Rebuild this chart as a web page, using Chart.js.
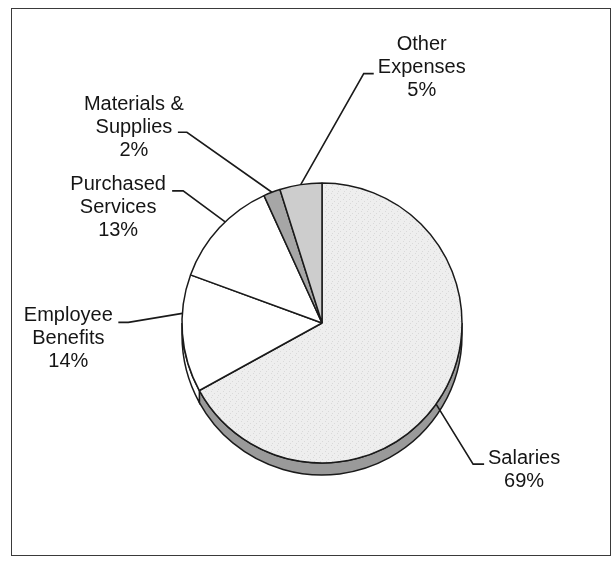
<!DOCTYPE html>
<html>
<head>
<meta charset="utf-8">
<script src="https://cdn.jsdelivr.net/npm/chart.js@4"></script>
<style>
  body { margin: 0; background: #fff; }
  #wrap { position: relative; width: 616px; height: 564px; }
  #frame {
    position: absolute; left: 11px; top: 8px; width: 598px; height: 546px;
    border: 1.5px solid #3a3a3a;
  }
  canvas { position: absolute; left: 0; top: 0; }
</style>
</head>
<body>
<div id="wrap">
  <div id="frame"></div>
  <canvas id="pie" width="616" height="564"></canvas>
</div>
<script>
// values as printed on the chart (percent)
const categories = ['Salaries', 'Employee Benefits', 'Purchased Services', 'Materials & Supplies', 'Other Expenses'];
const values = [69, 14, 13, 2, 5];
const labelLines = [
    ['Salaries', '69%'],
    ['Employee', 'Benefits', '14%'],
    ['Purchased', 'Services', '13%'],
    ['Materials &', 'Supplies', '2%'],
    ['Other', 'Expenses', '5%']
];

// where each callout sits, relative to the slice edge
// t = position along the slice, elbow = offset of the bend, tail = flat part, text = offset of first line
const callouts = [
    { t: 0.52, elbow: [37, 60], tail: 11, text: [40, -6] },
    { t: 0.67, elbow: [-54, 9], tail: -10, text: [-50, -7] },
    { t: 0.575, elbow: [-42, -31], tail: -11, text: [-54, -6] },
    { t: 0.5, elbow: [-85, -60], tail: -9, text: [-44, -28] },
    { t: 0.5, elbow: [63, -111], tail: 10, text: [48, -29] }
];

const depth = 12;
const sideColors = ['#9a9a9a', '#ffffff', '#ffffff', '#8c8c8c', '#b8b8b8'];

function stipple() {
    const c = document.createElement('canvas');
    c.width = 6; c.height = 6;
    const g = c.getContext('2d');
    g.fillStyle = '#eeeeee';
    g.fillRect(0, 0, 6, 6);
    g.fillStyle = '#d9d9d9';
    g.fillRect(1, 1, 1, 1);
    g.fillRect(4, 3, 1, 1);
    g.fillRect(2, 5, 1, 1);
    return g.createPattern(c, 'repeat');
}

const ctx = document.getElementById('pie').getContext('2d');

const sidePlugin = {
    id: 'side',
    beforeDatasetsDraw(chart) {
        const c = chart.ctx;
        const arcs = chart.getDatasetMeta(0).data;
        c.save();
        arcs.forEach((arc, i) => {
            const p = arc.getProps(['x', 'y', 'startAngle', 'endAngle', 'outerRadius'], true);
            const a = Math.max(p.startAngle, 0);
            const b = Math.min(p.endAngle, Math.PI);
            if (a >= b) return;
            c.beginPath();
            c.arc(p.x, p.y, p.outerRadius, a, b);
            c.arc(p.x, p.y + depth, p.outerRadius, b, a, true);
            c.closePath();
            c.fillStyle = sideColors[i];
            c.fill();
            c.lineWidth = 1.5;
            c.strokeStyle = '#1a1a1a';
            c.stroke();
        });
        c.restore();
    }
};

const calloutPlugin = {
    id: 'callouts',
    afterDatasetsDraw(chart) {
        const c = chart.ctx;
        const arcs = chart.getDatasetMeta(0).data;
        c.save();
        c.font = '20px "Liberation Sans", Arial, sans-serif';
        c.textAlign = 'center';
        c.textBaseline = 'middle';
        c.fillStyle = '#151515';
        c.strokeStyle = '#1a1a1a';
        c.lineWidth = 1.6;
        arcs.forEach((arc, i) => {
            const p = arc.getProps(['x', 'y', 'startAngle', 'endAngle', 'outerRadius'], true);
            const co = callouts[i];
            const ang = p.startAngle + (p.endAngle - p.startAngle) * co.t;
            const ax = p.x + p.outerRadius * Math.cos(ang);
            const ay = p.y + p.outerRadius * Math.sin(ang);
            const ex = ax + co.elbow[0];
            const ey = ay + co.elbow[1];
            const tx = ex + co.tail;
            c.beginPath();
            c.moveTo(ax, ay);
            c.lineTo(ex, ey);
            c.lineTo(tx, ey);
            c.stroke();
            labelLines[i].forEach((line, k) => {
                c.fillText(line, tx + co.text[0], ey + co.text[1] + k * 23);
            });
        });
        c.restore();
    }
};

new Chart(ctx, {
    type: 'pie',
    data: {
        labels: categories,
        datasets: [{
            data: values,
            backgroundColor: [stipple(), '#ffffff', '#ffffff', '#a6a6a6', '#cdcdcd'],
            borderColor: '#1a1a1a',
            borderWidth: 1.5,
            radius: 140
        }]
    },
    options: {
        responsive: false,
        animation: false,
        layout: { padding: { left: 28, right: 0, top: 82, bottom: 0 } },
        plugins: {
            legend: { display: false },
            tooltip: { enabled: false }
        }
    },
    plugins: [sidePlugin, calloutPlugin]
});
</script>
</body>
</html>
